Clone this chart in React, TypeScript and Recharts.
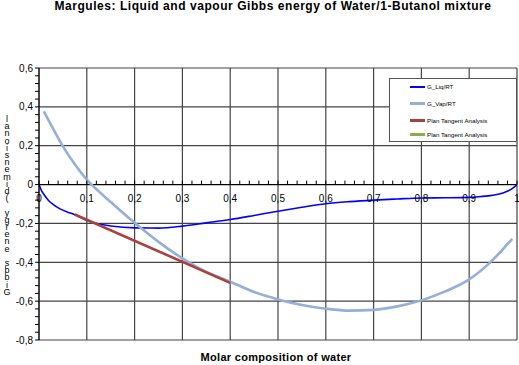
import React from 'react';
import {
  ComposedChart,
  Line,
  XAxis,
  YAxis,
  CartesianGrid,
  ReferenceLine,
  ReferenceDot,
  Legend,
} from 'recharts';

// ---- data ----
const liqX = [0, 0.005, 0.01, 0.02, 0.03, 0.044, 0.06, 0.075, 0.1, 0.125, 0.15, 0.2, 0.25, 0.3, 0.35, 0.4, 0.45, 0.5, 0.55, 0.6, 0.65, 0.7, 0.75, 0.8, 0.85, 0.9, 0.92, 0.944, 0.96, 0.971, 0.982, 0.992, 1];
const liqY = [0, -0.03, -0.05, -0.082, -0.103, -0.125, -0.142, -0.155, -0.185, -0.203, -0.213, -0.223, -0.224, -0.214, -0.197, -0.18, -0.159, -0.137, -0.117, -0.099, -0.088, -0.08, -0.074, -0.069, -0.068, -0.066, -0.063, -0.057, -0.05, -0.043, -0.032, -0.017, 0];

const vapX = [0.01, 0.03, 0.05, 0.075, 0.1, 0.125, 0.15, 0.2, 0.25, 0.3, 0.35, 0.4, 0.45, 0.5, 0.55, 0.6, 0.65, 0.7, 0.75, 0.8, 0.85, 0.9, 0.95, 0.99];
const vapY = [0.377, 0.285, 0.197, 0.105, 0.026, -0.035, -0.09, -0.197, -0.295, -0.38, -0.45, -0.5, -0.553, -0.591, -0.62, -0.639, -0.649, -0.645, -0.627, -0.596, -0.55, -0.488, -0.386, -0.279];

const tanX = [0.075, 0.4];
const tanY = [-0.154, -0.506];

const seriesNames = ['G_Liq/RT', 'G_Vap/RT', 'Plan Tangent Analysis', 'Plan Tangent Analysis'];
const seriesColors = ['#0000FF', '#95AFD6', '#A8423F', '#8AAE4C'];

const xMajorTicks = [0, 0.1, 0.2, 0.3, 0.4, 0.5, 0.6, 0.7, 0.8, 0.9, 1];
const xTickLabels = ['0', '0,1', '0,2', '0,3', '0,4', '0,5', '0,6', '0,7', '0,8', '0,9', '1'];
const yMajorTicks = [-0.8, -0.6, -0.4, -0.2, 0, 0.2, 0.4, 0.6];
const yTickLabels = ['-0,8', '-0,6', '-0,4', '-0,2', '0', '0,2', '0,4', '0,6'];

const titleText = 'Margules: Liquid and vapour Gibbs energy of Water/1-Butanol mixture';
const xTitle = 'Molar composition of water';
const yTitleChars = 'lanoisnemid( ygrene sbbiG'.split('');

const xMinorTicks = Array.from({ length: 51 }, (_, i) => Math.round(i * 2) / 100);
const yAllTicks = Array.from({ length: 36 }, (_, i) => Math.round((-0.8 + i * 0.04) * 100) / 100);

const liqData = liqX.map((x, i) => ({ x, y: liqY[i] }));
const vapData = vapX.map((x, i) => ({ x, y: vapY[i] }));
const tanData = tanX.map((x, i) => ({ x, y: tanY[i] }));

const FONT = 'Arial, "Liberation Sans", sans-serif';
const GRID = '#444';

const YTick = (props: any) => {
  const { x, y, payload } = props;
  const i = yMajorTicks.findIndex((t) => Math.abs(t - payload.value) < 1e-6);
  if (i < 0) return null;
  return (
    <text x={x} y={y} dy={3.5} textAnchor="end" fontSize={10} fill="#000" fontFamily={FONT}>
      {yTickLabels[i]}
    </text>
  );
};

const LegendBox = () => (
  <div
    style={{
      width: 126,
      height: 62,
      border: '1px solid #555',
      background: '#fff',
      position: 'relative',
      fontFamily: FONT,
      fontSize: 6.2,
      color: '#000',
    }}
  >
    {seriesNames.map((n, i) => (
      <div key={i} style={{ position: 'absolute', left: 20, top: [6, 23, 40, 54][i], display: 'flex', alignItems: 'center', height: 3, whiteSpace: 'nowrap' }}>
        <div style={{ width: 15, height: i === 0 ? 2 : 3, background: seriesColors[i], marginRight: 2 }} />
        <span>{n}</span>
      </div>
    ))}
  </div>
);

export default function App() {
  return (
    <div style={{ position: 'relative', width: 519, height: 365, fontFamily: FONT, background: '#fff' }}>
      <style>{'body{margin:0}'}</style>
      <div
        style={{
          position: 'absolute',
          left: 0,
          top: 0,
          width: 546,
          textAlign: 'center',
          fontWeight: 'bold',
          fontSize: 12,
          letterSpacing: 0.55,
          lineHeight: '13px',
          color: '#000',
        }}
      >
        {titleText}
      </div>
      <div
        style={{
          position: 'absolute',
          left: 0,
          top: 351,
          width: 552,
          textAlign: 'center',
          fontWeight: 'bold',
          fontSize: 11,
          letterSpacing: 0.3,
          lineHeight: '12px',
          color: '#000',
        }}
      >
        {xTitle}
      </div>
      <svg style={{ position: 'absolute', left: 0, top: 0 }} width={20} height={365}>
        <text x={7} y={122} textAnchor="middle" fontSize={9} fontFamily={FONT} fill="#000">
          {yTitleChars.map((c, i) => (
            <tspan key={i} x={7} dy={i === 0 ? 0 : 7.2}>
              {c === ' ' ? '\u00a0' : c}
            </tspan>
          ))}
        </text>
      </svg>
      <div style={{ position: 'absolute', left: 0, top: 0 }}>
        <ComposedChart width={519} height={365} margin={{ top: 68, right: 2, bottom: 25, left: 0 }}>
          <CartesianGrid stroke={GRID} strokeWidth={1.2} vertical={false} horizontalValues={yMajorTicks} />
          <XAxis
            type="number"
            dataKey="x"
            domain={[0, 1]}
            ticks={xMajorTicks}
            tick={false}
            tickLine={false}
            axisLine={false}
            height={0}
            allowDataOverflow
          />
          <YAxis
            type="number"
            domain={[-0.8, 0.6]}
            ticks={yAllTicks}
            interval={0}
            width={39}
            tick={<YTick />}
            tickSize={4}
            tickLine={{ stroke: '#000' }}
            axisLine={{ stroke: '#000' }}
            allowDataOverflow
          />
          {xMajorTicks.map((t, i) => (
            <ReferenceLine key={'vg' + i} x={t} stroke={GRID} strokeWidth={1.2} />
          ))}
          <ReferenceLine y={0} stroke="#000" strokeWidth={1} />
          {xMinorTicks.map((t, i) => (
            <ReferenceDot
              key={'xm' + i}
              x={t}
              y={0}
              r={0}
              shape={(p: any) => <line x1={p.cx} x2={p.cx} y1={p.cy} y2={p.cy - 4} stroke="#000" strokeWidth={1} />}
            />
          ))}
          {xMajorTicks.map((t, i) => (
            <ReferenceDot
              key={'xl' + i}
              x={t}
              y={0}
              r={0}
              shape={(p: any) => (
                <text x={p.cx} y={p.cy + 17} textAnchor="middle" fontSize={10} fontFamily={FONT} fill="#000">
                  {xTickLabels[i]}
                </text>
              )}
            />
          ))}
          <Line data={liqData} dataKey="y" name={seriesNames[0]} type="monotone" stroke={seriesColors[0]} strokeWidth={1.6} dot={false} isAnimationActive={false} />
          <Line data={vapData} dataKey="y" name={seriesNames[1]} type="monotone" stroke={seriesColors[1]} strokeWidth={2.6} dot={false} isAnimationActive={false} />
          <Line data={tanData} dataKey="y" name={seriesNames[2]} type="linear" stroke={seriesColors[2]} strokeWidth={2.6} dot={false} isAnimationActive={false} />
          <Legend
            layout="vertical"
            align="center"
            verticalAlign="middle"
            content={<LegendBox />}
            wrapperStyle={{ left: 389, top: 78, width: 128, height: 64 }}
          />
        </ComposedChart>
      </div>
    </div>
  );
}
